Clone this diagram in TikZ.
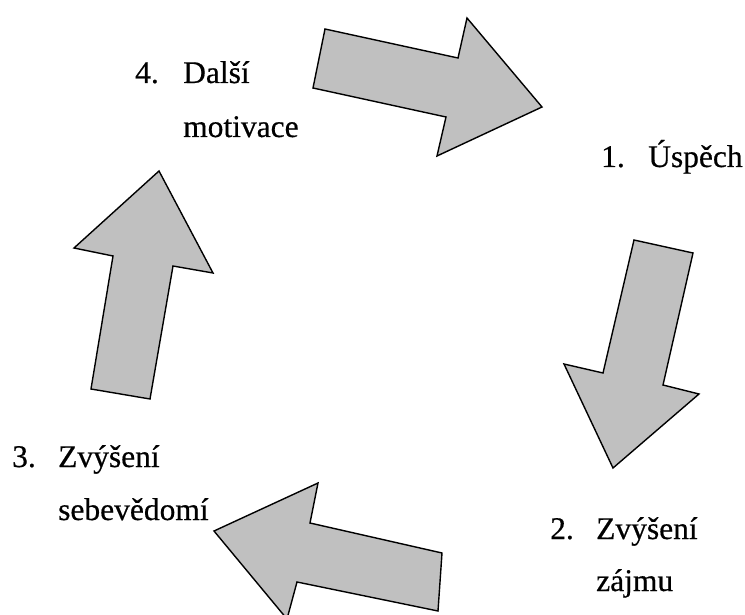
\documentclass[tikz,border=0pt]{standalone}
\usepackage{fontspec}
\setmainfont{Liberation Serif}[FakeBold=0.5]
\begin{document}
\begin{tikzpicture}[x=1pt,y=-1pt,
  bigarrow/.style={draw=black,fill={rgb,255:red,192;green,192;blue,192},line width=1.4pt,line join=miter},
  lbl/.style={anchor=base west,inner sep=0pt,font=\fontsize{31.5}{37}\selectfont}]
\useasboundingbox (0,0) rectangle (745,615);
% arrow 4 -> 1
\draw[bigarrow] (325,29) -- (458,58) -- (467,18) -- (542,107) -- (437,156) -- (446,117) -- (313,88) -- cycle;
% arrow 1 -> 2
\draw[bigarrow] (634,240) -- (693,253) -- (663,385) -- (699,394) -- (613,468) -- (564,364) -- (603,373) -- cycle;
% arrow 2 -> 3
\draw[bigarrow] (442,553) -- (310,523) -- (318,483) -- (214,531) -- (287,619) -- (297,582) -- (438,611) -- cycle;
% arrow 3 -> 4
\draw[bigarrow] (150,399) -- (173,266) -- (213,273) -- (159,171) -- (74,248) -- (113,256) -- (91,389) -- cycle;
% labels
\node[lbl] (n1) at (601,167) {1.};
\node[lbl] (t1a) at (648,167) {Úspěch};
\node[lbl] (n2) at (550,539) {2.};
\node[lbl] (t2a) at (596,539) {Zvýšení};
\node[lbl] (t2b) at (596,591) {zájmu};
\node[lbl] (n3) at (12,467) {3.};
\node[lbl] (t3a) at (58,467) {Zvýšení};
\node[lbl] (t3b) at (58,520) {sebevědomí};
\node[lbl] (n4) at (135,83) {4.};
\node[lbl] (t4a) at (183,83) {Další};
\node[lbl] (t4b) at (183,137) {motivace};
\end{tikzpicture}
\end{document}
